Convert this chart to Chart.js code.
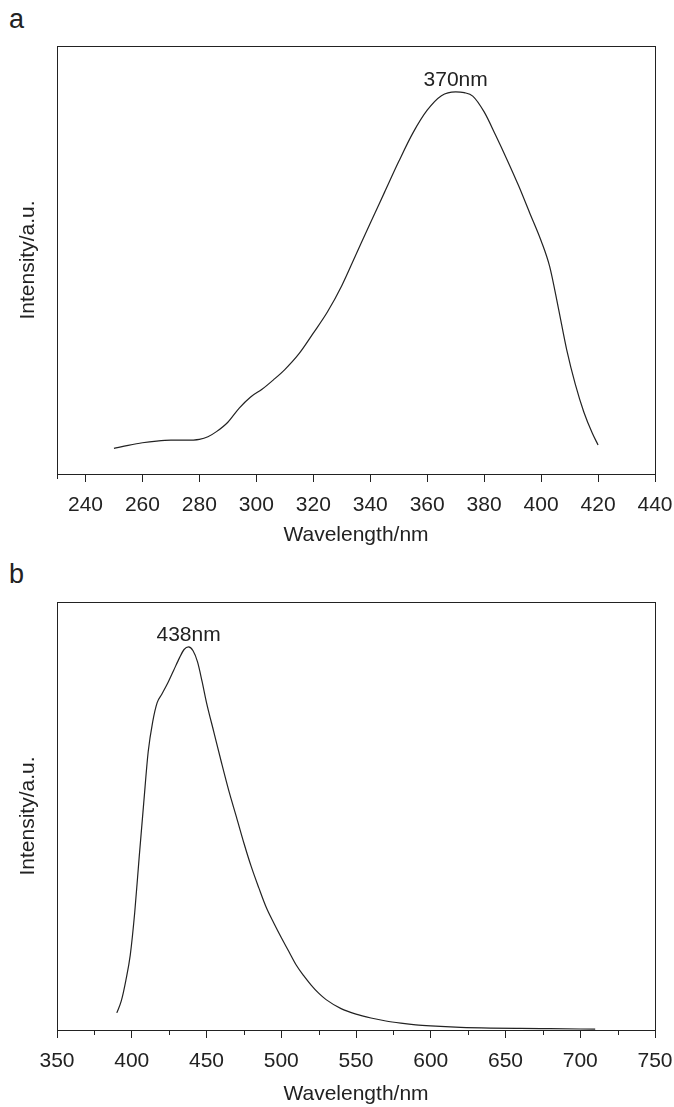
<!DOCTYPE html>
<html>
<head>
<meta charset="utf-8">
<script src="https://cdn.jsdelivr.net/npm/chart.js@4"></script>
<style>
  html, body { margin: 0; padding: 0; background: #fff; }
  body { width: 674px; height: 1107px; position: relative; overflow: hidden; font-family: "Liberation Sans", Arial, sans-serif; }
  .panel { position: absolute; left: 0; width: 674px; height: 552px; }
  .tag { position: absolute; left: 9px; font-size: 27px; color: #222; line-height: 1; }
</style>
</head>
<body>
<div class="tag" style="top:6px">a</div>
<div class="panel" style="top:0"><canvas id="chartA" width="674" height="552"></canvas></div>
<div class="tag" style="top:561px">b</div>
<div class="panel" style="top:556px"><canvas id="chartB" width="674" height="552"></canvas></div>
<script>
// spettro a (eccitazione)
const waveA = [250, 255, 260, 265, 270, 275, 280, 283, 286, 290, 294, 298, 302, 306, 310, 315, 320, 325, 330, 335, 340, 345, 350, 355, 360, 365, 370, 373, 376, 380, 384, 388, 392, 396, 400, 403, 406, 409, 412, 415, 418, 420];
const intensityA = [6.0, 6.7, 7.3, 7.7, 7.9, 7.9, 8.1, 8.7, 9.9, 12.1, 15.4, 18.0, 19.8, 22.0, 24.4, 28.1, 32.9, 37.9, 44.0, 51.3, 58.6, 65.8, 73.0, 79.7, 85.0, 88.4, 89.3, 89.1, 88.3, 84.6, 79.2, 73.5, 67.5, 61.0, 54.5, 48.5, 39.0, 29.0, 21.0, 14.5, 9.5, 6.8];
const peakA = 370;
const xTicksA = [230, 440, 20, 10]; // min, max, passo, passo minore

// spettro b (emissione)
const waveB = [390, 393, 396, 399, 402, 405, 408, 411, 414, 417, 420, 424, 428, 432, 435, 438, 441, 444, 447, 450, 455, 460, 465, 470, 475, 480, 485, 490, 495, 500, 505, 510, 515, 520, 525, 530, 540, 550, 560, 570, 580, 590, 600, 620, 640, 660, 680, 710];
const intensityB = [4.0, 6.8, 11.5, 17.5, 27.5, 40.5, 53.0, 65.0, 72.0, 76.5, 78.4, 81.0, 84.0, 87.0, 88.9, 89.5, 88.6, 86.0, 81.5, 76.5, 69.5, 62.5, 55.8, 49.8, 43.7, 38.1, 33.2, 28.6, 25.0, 21.6, 18.4, 15.2, 12.7, 10.5, 8.6, 7.1, 5.0, 3.7, 2.8, 2.1, 1.6, 1.2, 0.95, 0.62, 0.45, 0.36, 0.3, 0.2];
const peakB = 438;
const xTicksB = [350, 750, 50, 25];

const ink = '#222';
const fontFamily = '"Liberation Sans", Arial, sans-serif';

// cornice, tacche minori ed etichetta del picco
const extras = {
  id: 'extras',
  afterDraw(chart, args, opts) {
    const { ctx, chartArea: a } = chart;
    const x = chart.scales.x, y = chart.scales.y;
    ctx.save();
    ctx.strokeStyle = ink;
    ctx.lineWidth = 1;
    ctx.strokeRect(a.left + 0.5, a.top + 0.5, a.right - a.left, a.bottom - a.top);
    ctx.beginPath();
    for (let v = opts.min + opts.minor; v < opts.max; v += opts.step) {
      const px = Math.round(x.getPixelForValue(v)) + 0.5;
      ctx.moveTo(px, a.bottom);
      ctx.lineTo(px, a.bottom + 5);
    }
    if (opts.min % opts.step !== 0) {
      const px = Math.round(x.getPixelForValue(opts.min)) + 0.5;
      ctx.moveTo(px, a.bottom);
      ctx.lineTo(px, a.bottom + 5);
    }
    ctx.stroke();
    ctx.fillStyle = ink;
    ctx.font = '21px ' + fontFamily;
    ctx.textAlign = 'center';
    ctx.textBaseline = 'middle';
    ctx.fillText(opts.peak + 'nm', x.getPixelForValue(opts.peak), y.getPixelForValue(opts.top) - 12);
    ctx.restore();
  }
};

function makeChart(id, waves, values, peak, t, titlePad) {
  const ctx = document.getElementById(id).getContext('2d');
  return new Chart(ctx, {
    type: 'line',
    data: {
      datasets: [{
        data: waves.map((w, i) => ({ x: w, y: values[i] })),
        borderColor: ink,
        borderWidth: 1.2,
        pointRadius: 0,
        cubicInterpolationMode: 'monotone',
        fill: false
      }]
    },
    options: {
      responsive: false,
      animation: false,
      layout: { padding: { top: 46, right: 19, left: 0, bottom: 0 } },
      plugins: {
        legend: { display: false },
        tooltip: { enabled: false },
        extras: { min: t[0], max: t[1], step: t[2], minor: t[3], peak: peak, top: Math.max(...values) }
      },
      scales: {
        x: {
          type: 'linear',
          min: t[0],
          max: t[1],
          afterFit: s => { s.height = 78; s.paddingLeft = 0; s.paddingRight = 0; },
          ticks: { stepSize: t[2], includeBounds: false, padding: 11, color: ink, font: { size: 21, family: fontFamily } },
          grid: { drawOnChartArea: false, drawTicks: true, tickLength: 8, color: ink },
          border: { color: ink, width: 1 },
          title: { display: true, text: 'Wavelength/nm', color: ink, font: { size: 21, family: fontFamily }, padding: { top: 0, bottom: titlePad } }
        },
        y: {
          min: 0,
          max: 100,
          afterFit: s => { s.width = 57; },
          ticks: { display: false },
          grid: { display: false },
          border: { color: ink, width: 1 },
          title: { display: true, text: 'Intensity/a.u.', color: ink, font: { size: 21, family: fontFamily }, padding: { top: 16, bottom: 0 } }
        }
      }
    },
    plugins: [extras]
  });
}

makeChart('chartA', waveA, intensityA, peakA, xTicksA, 4);
makeChart('chartB', waveB, intensityB, peakB, xTicksB, 1);
</script>
</body>
</html>
